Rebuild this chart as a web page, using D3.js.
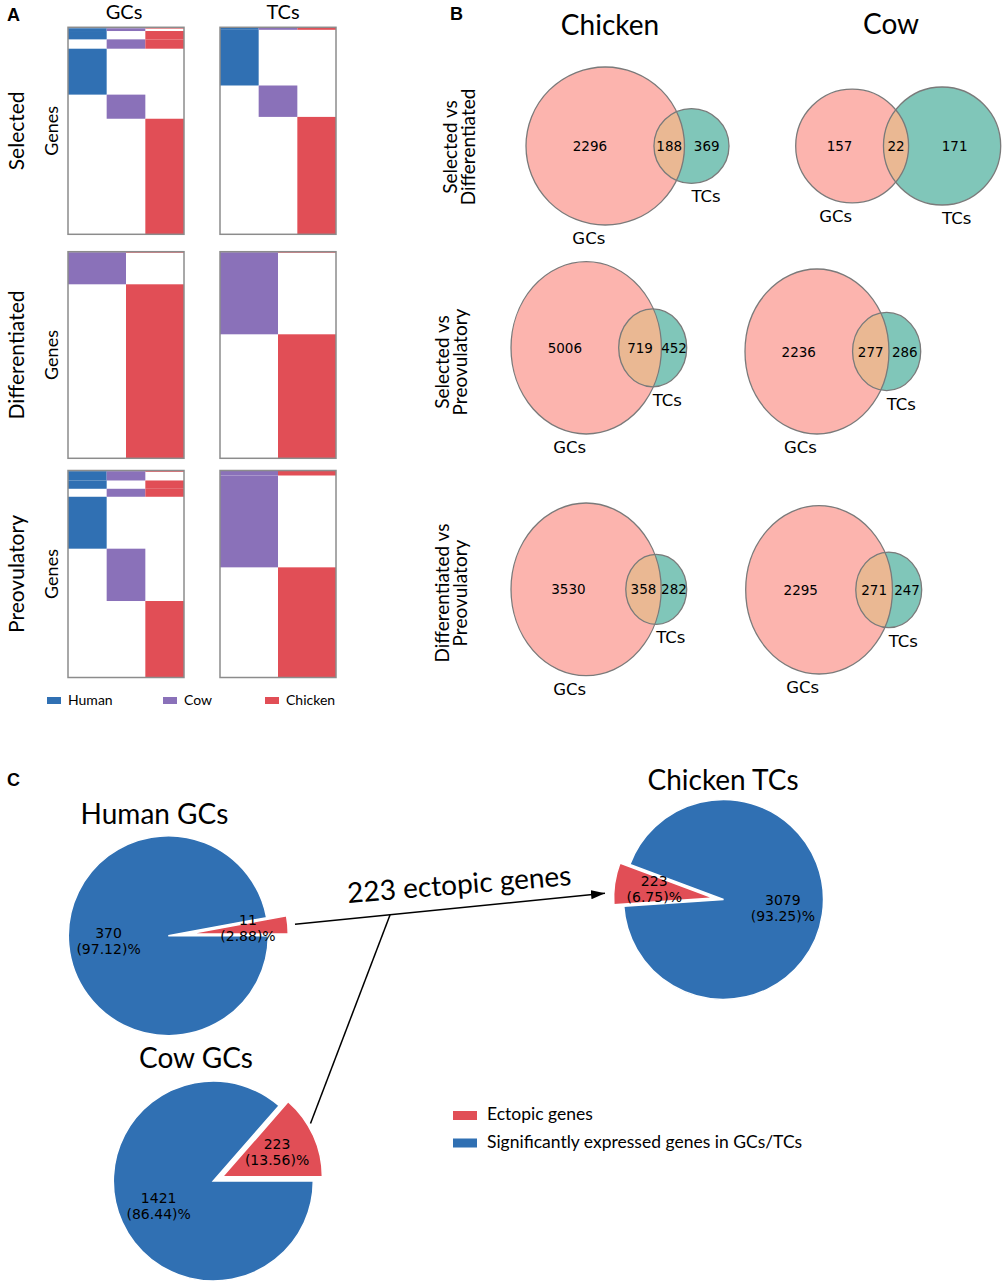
<!DOCTYPE html>
<html>
<head>
<meta charset="utf-8">
<script src="https://cdn.jsdelivr.net/npm/d3@7"></script>
<style>
body { margin: 0; background: #ffffff; }
svg text { font-family: Lato, "Open Sans", sans-serif; fill: #000; }
svg text.mpl { font-family: "DejaVu Sans", sans-serif; }
svg text.tag { font-family: "Liberation Sans", Arial, sans-serif; font-weight: bold; }
</style>
</head>
<body>
<svg id="fig"></svg>
<script>
// ---------- panel A: species-specific genes ----------
let stages = ["Selected", "Differentiated", "Preovulatory"]
let cellTypes = ["GCs", "TCs"]
let species3 = ["Human", "Cow", "Chicken"]
let species2 = ["Cow", "Chicken"]
// gene groups (which species columns are marked)
let groups3 = [["Human", "Cow", "Chicken"], ["Human", "Cow"], ["Human", "Chicken"], ["Cow", "Chicken"], ["Human"], ["Cow"], ["Chicken"]]
let groups2 = [["Cow", "Chicken"], ["Cow"], ["Chicken"]]
// relative group sizes
let selectedGCs = [1.3, 2.4, 8.3, 9.3, 45.7, 24, 115]
let selectedTCs = [2.5, 0, 0, 0, 55.5, 31.3, 117]
let differentiatedGCs = [1, 31.6, 174]
let differentiatedTCs = [1, 81.6, 124]
let preovulatoryGCs = [1.3, 8.7, 8.3, 8, 52, 52.4, 76.6]
let preovulatoryTCs = [5, 91.7, 110]

// ---------- panel B: venn counts ----------
let vennSpecies = ["Chicken", "Cow"]
let vennRows = [["Selected vs", "Differentiated"], ["Selected vs", "Preovulatory"], ["Differentiated vs", "Preovulatory"]]
let chickenGCsOnly = [2296, 5006, 3530]
let chickenShared = [188, 719, 358]
let chickenTCsOnly = [369, 452, 282]
let cowGCsOnly = [157, 2236, 2295]
let cowShared = [22, 277, 271]
let cowTCsOnly = [171, 286, 247]

// ---------- panel C: pies ----------
let pieTitles = ["Human GCs", "Chicken TCs", "Cow GCs"]
let ectopicGenes = [11, 223, 223]
let expressedGenes = [370, 3079, 1421]
let ectopicPct = ["2.88", "6.75", "13.56"]
let expressedPct = ["97.12", "93.25", "86.44"]
let pieLegend = ["Ectopic genes", "Significantly expressed genes in GCs/TCs"]

let speciesColors = { Human: "#3070b3", Cow: "#8a71b9", Chicken: "#e14e56" }
let gcFill = "#fcb4ae"
let tcFill = "#80c6b9"
let bothFill = "#eab893"
let ectopicColor = "#e14e56"
let expressedColor = "#3070b3"

let width = 1003
let height = 1286

let svg = d3.select("#fig").attr("width", width).attr("height", height)

// ================= A =================
let heatX = { GCs: [68, 184], TCs: [220, 336] }
let heatY = [[27.3, 234.3], [251.7, 458.3], [470.5, 677.5]]

let drawHeat = (sizes, groups, cols, xr, yr) => {
    let g = svg.append("g")
    let x = d3.scaleBand().domain(cols).range(xr)
    let cum = Array.from(d3.cumsum(sizes))
    let y = d3.scaleLinear().domain([0, cum[cum.length - 1]]).range(yr)
    let cells = []
    sizes.forEach((s, i) => {
        if (s <= 0) return
        groups[i].forEach((sp) => cells.push({ sp: sp, start: cum[i] - s, end: cum[i] }))
    })
    g.selectAll("rect.cell")
        .data(cells)
        .enter()
        .append("rect")
        .attr("class", "cell")
        .attr("x", (d) => x(d.sp))
        .attr("width", x.bandwidth())
        .attr("y", (d) => y(d.start))
        .attr("height", (d) => y(d.end) - y(d.start))
        .attr("fill", (d) => speciesColors[d.sp])
    g.append("rect")
        .attr("x", xr[0]).attr("y", yr[0])
        .attr("width", xr[1] - xr[0]).attr("height", yr[1] - yr[0])
        .attr("fill", "none").attr("stroke", "#8c8c8c").attr("stroke-width", 1.5)
}

drawHeat(selectedGCs, groups3, species3, heatX.GCs, heatY[0])
drawHeat(selectedTCs, groups3, species3, heatX.TCs, heatY[0])
drawHeat(differentiatedGCs, groups2, species2, heatX.GCs, heatY[1])
drawHeat(differentiatedTCs, groups2, species2, heatX.TCs, heatY[1])
drawHeat(preovulatoryGCs, groups3, species3, heatX.GCs, heatY[2])
drawHeat(preovulatoryTCs, groups2, species2, heatX.TCs, heatY[2])

svg.append("text").attr("class", "tag").attr("x", 7).attr("y", 21).style("font-size", "18px").text("A")
svg.append("text").attr("x", 124).attr("y", 19).attr("text-anchor", "middle").style("font-size", "20px").text(cellTypes[0])
svg.append("text").attr("x", 283).attr("y", 19).attr("text-anchor", "middle").style("font-size", "20px").text(cellTypes[1])

stages.forEach((st, i) => {
    let cy = (heatY[i][0] + heatY[i][1]) / 2
    svg.append("text")
        .attr("transform", "translate(24," + cy + ") rotate(-90)")
        .attr("text-anchor", "middle").style("font-size", "21px").text(st)
    svg.append("text")
        .attr("transform", "translate(58," + cy + ") rotate(-90)")
        .attr("text-anchor", "middle").style("font-size", "18px").text("Genes")
})

let legendA = svg.append("g")
let legendAx = [47, 163, 265]
species3.forEach((sp, i) => {
    legendA.append("rect").attr("x", legendAx[i]).attr("y", 697).attr("width", 14).attr("height", 7)
        .attr("fill", speciesColors[sp])
    legendA.append("text").attr("x", legendAx[i] + 21).attr("y", 705).style("font-size", "14px").text(sp)
})

// ================= B =================
svg.append("text").attr("class", "tag").attr("x", 450).attr("y", 20).style("font-size", "18px").text("B")
svg.append("text").attr("x", 610).attr("y", 35).attr("text-anchor", "middle").style("font-size", "28px").text(vennSpecies[0])
svg.append("text").attr("x", 891).attr("y", 34).attr("text-anchor", "middle").style("font-size", "28px").text(vennSpecies[1])

let rowLabelPos = [[457, 147], [449, 362], [449, 593]]
vennRows.forEach((lines, i) => {
    let t = svg.append("text")
        .attr("transform", "translate(" + rowLabelPos[i][0] + "," + rowLabelPos[i][1] + ") rotate(-90)")
        .attr("text-anchor", "middle").style("font-size", "19px")
    t.append("tspan").attr("x", 0).attr("y", 0).text(lines[0])
    t.append("tspan").attr("x", 0).attr("y", 18).text(lines[1])
})

// circle overlap area
let overlapArea = (r1, r2, d) => {
    if (d >= r1 + r2) return 0
    if (d <= Math.abs(r1 - r2)) return Math.PI * Math.min(r1, r2) ** 2
    let a1 = Math.acos((d * d + r1 * r1 - r2 * r2) / (2 * d * r1))
    let a2 = Math.acos((d * d + r2 * r2 - r1 * r1) / (2 * d * r2))
    return r1 * r1 * (a1 - Math.sin(2 * a1) / 2) + r2 * r2 * (a2 - Math.sin(2 * a2) / 2)
}
let solveDistance = (r1, r2, area) => {
    let lo = Math.abs(r1 - r2), hi = r1 + r2
    for (let k = 0; k < 60; k++) {
        let mid = (lo + hi) / 2
        if (overlapArea(r1, r2, mid) > area) lo = mid
        else hi = mid
    }
    return (lo + hi) / 2
}

// pixel boxes of each venn [x0, x1, y0, y1]
let vennBoxes = {
    Chicken: [[526, 729, 67, 225], [511, 686.7, 261.7, 434], [511, 686.7, 503, 675.7]],
    Cow: [[795.7, 1000.7, 87, 205], [745, 920.7, 269, 434], [745.7, 921.7, 505.7, 674]]
}
let vennCounts = {
    Chicken: [chickenGCsOnly, chickenShared, chickenTCsOnly],
    Cow: [cowGCsOnly, cowShared, cowTCsOnly]
}
let clipId = 0

let drawVenn = (sp, i) => {
    let a = vennCounts[sp][0][i], ab = vennCounts[sp][1][i], b = vennCounts[sp][2][i]
    let total = a + ab + b
    let rA = Math.sqrt((a + ab) / total / Math.PI)
    let rB = Math.sqrt((b + ab) / total / Math.PI)
    let d = solveDistance(rA, rB, ab / total)
    let m = Math.max(rA, rB)
    let box = vennBoxes[sp][i]
    let x = d3.scaleLinear().domain([-rA, Math.max(rA, d + rB)]).range([box[0], box[1]])
    let y = d3.scaleLinear().domain([-m, m]).range([box[2], box[3]])
    let g = svg.append("g")
    let cid = "clipA" + (clipId++)
    let rxA = x(rA) - x(0), ryA = y(rA) - y(0)
    let rxB = x(rB) - x(0), ryB = y(rB) - y(0)
    g.append("clipPath").attr("id", cid).append("ellipse")
        .attr("cx", x(0)).attr("cy", y(0)).attr("rx", rxA).attr("ry", ryA)
    g.append("ellipse").attr("cx", x(0)).attr("cy", y(0)).attr("rx", rxA).attr("ry", ryA).attr("fill", gcFill)
    g.append("ellipse").attr("cx", x(d)).attr("cy", y(0)).attr("rx", rxB).attr("ry", ryB).attr("fill", tcFill)
    g.append("ellipse").attr("cx", x(d)).attr("cy", y(0)).attr("rx", rxB).attr("ry", ryB).attr("fill", bothFill)
        .attr("clip-path", "url(#" + cid + ")")
    g.append("ellipse").attr("cx", x(0)).attr("cy", y(0)).attr("rx", rxA).attr("ry", ryA)
        .attr("fill", "none").attr("stroke", "#7a7a7a").attr("stroke-width", 1.3)
    g.append("ellipse").attr("cx", x(d)).attr("cy", y(0)).attr("rx", rxB).attr("ry", ryB)
        .attr("fill", "none").attr("stroke", "#7a7a7a").attr("stroke-width", 1.3)

    let labelX = [(-rA + d - rB) / 2, (d - rB + rA) / 2, (rA + d + rB) / 2]
    let labels = [a, ab, b]
    labelX.forEach((lx, j) => {
        g.append("text").attr("class", "mpl").attr("x", x(lx)).attr("y", y(0))
            .attr("text-anchor", "middle").attr("dominant-baseline", "central")
            .style("font-size", "13.5px").text(labels[j])
    })
    let pad = (rA + rB) / 2 * 0.1
    g.append("text").attr("class", "mpl").attr("x", x(0)).attr("y", y(rA + pad) + 13)
        .attr("text-anchor", "end").style("font-size", "16.5px").text(cellTypes[0])
    g.append("text").attr("class", "mpl").attr("x", x(d)).attr("y", y(rB + pad) + 13)
        .attr("text-anchor", "start").style("font-size", "16.5px").text(cellTypes[1])
}

vennSpecies.forEach((sp) => {
    for (let i = 0; i < 3; i++) drawVenn(sp, i)
})

// ================= C =================
svg.append("text").attr("class", "tag").attr("x", 7).attr("y", 786).style("font-size", "18px").text("C")

let pieCenters = [[168.3, 935.7], [723.5, 899.5], [213.3, 1181]]
let pieStart = [0, 159.5, 0]
let pieExplode = [0.2, 0.1, 0.1]
let pieTitlePos = [[154.5, 824], [723, 790], [196, 1068]]
let pieR = 100

let drawPie = (i) => {
    let g = svg.append("g")
    let a0 = Math.PI / 2 - pieStart[i] * Math.PI / 180
    let pie = d3.pie().sort(null).startAngle(a0).endAngle(a0 - 2 * Math.PI)
    let arcs = pie([ectopicGenes[i], expressedGenes[i]])
    let arc = d3.arc().innerRadius(0).outerRadius(pieR)
    let labelArc = d3.arc().innerRadius(pieR * 0.6).outerRadius(pieR * 0.6)
    let colors = [ectopicColor, expressedColor]
    let lines = [
        [ectopicGenes[i], "(" + ectopicPct[i] + ")%"],
        [expressedGenes[i], "(" + expressedPct[i] + ")%"]
    ]
    let cx = pieCenters[i][0], cy = pieCenters[i][1]
    // draw blue first, then the exploded red slice
    let order = [1, 0]
    order.forEach((j) => {
        let d = arcs[j]
        let mid = (d.startAngle + d.endAngle) / 2
        let off = j === 0 ? pieExplode[i] * pieR : 0
        let ox = cx + Math.sin(mid) * off
        let oy = cy - Math.cos(mid) * off
        g.append("path").attr("d", arc(d))
            .attr("transform", "translate(" + ox + "," + oy + ")")
            .attr("fill", colors[j]).attr("stroke", "#ffffff").attr("stroke-width", 1.5)
    })
    order.forEach((j) => {
        let d = arcs[j]
        let mid = (d.startAngle + d.endAngle) / 2
        let off = j === 0 ? pieExplode[i] * pieR : 0
        let c = labelArc.centroid(d)
        let lx = cx + Math.sin(mid) * off + c[0]
        let ly = cy - Math.cos(mid) * off + c[1]
        let t = g.append("text").attr("class", "mpl").attr("text-anchor", "middle").style("font-size", "14px")
        t.append("tspan").attr("x", lx).attr("y", ly - 8).attr("dominant-baseline", "central").text(lines[j][0])
        t.append("tspan").attr("x", lx).attr("y", ly + 8).attr("dominant-baseline", "central").text(lines[j][1])
    })
    svg.append("text").attr("x", pieTitlePos[i][0]).attr("y", pieTitlePos[i][1])
        .attr("text-anchor", "middle").style("font-size", "28px").text(pieTitles[i])
}
for (let i = 0; i < 3; i++) drawPie(i)

// connecting arrows
svg.append("defs").append("marker")
    .attr("id", "head").attr("viewBox", "0 -5 14 10")
    .attr("refX", 14).attr("refY", 0)
    .attr("markerUnits", "userSpaceOnUse")
    .attr("markerWidth", 14).attr("markerHeight", 10)
    .attr("orient", "auto")
    .append("path").attr("d", "M0,-4.5L14,0L0,4.5Z").attr("fill", "#000")

svg.append("line").attr("x1", 295).attr("y1", 924.3).attr("x2", 605).attr("y2", 893.3)
    .attr("stroke", "#000").attr("stroke-width", 1.5).attr("marker-end", "url(#head)")
svg.append("line").attr("x1", 390).attr("y1", 915).attr("x2", 310.5).attr("y2", 1123.5)
    .attr("stroke", "#000").attr("stroke-width", 1.5)
svg.append("text").attr("transform", "translate(460,894) rotate(-4.6)")
    .attr("text-anchor", "middle").style("font-size", "28px").text(ectopicGenes[1] + " ectopic genes")

let legendC = svg.append("g")
let legendCColors = [ectopicColor, expressedColor]
let legendCy = [1111, 1138.5]
pieLegend.forEach((lab, i) => {
    legendC.append("rect").attr("x", 453).attr("y", legendCy[i]).attr("width", 24).attr("height", 9)
        .attr("fill", legendCColors[i])
    legendC.append("text").attr("x", 487).attr("y", legendCy[i] + 9).style("font-size", "17.5px").text(lab)
})
</script>
</body>
</html>
